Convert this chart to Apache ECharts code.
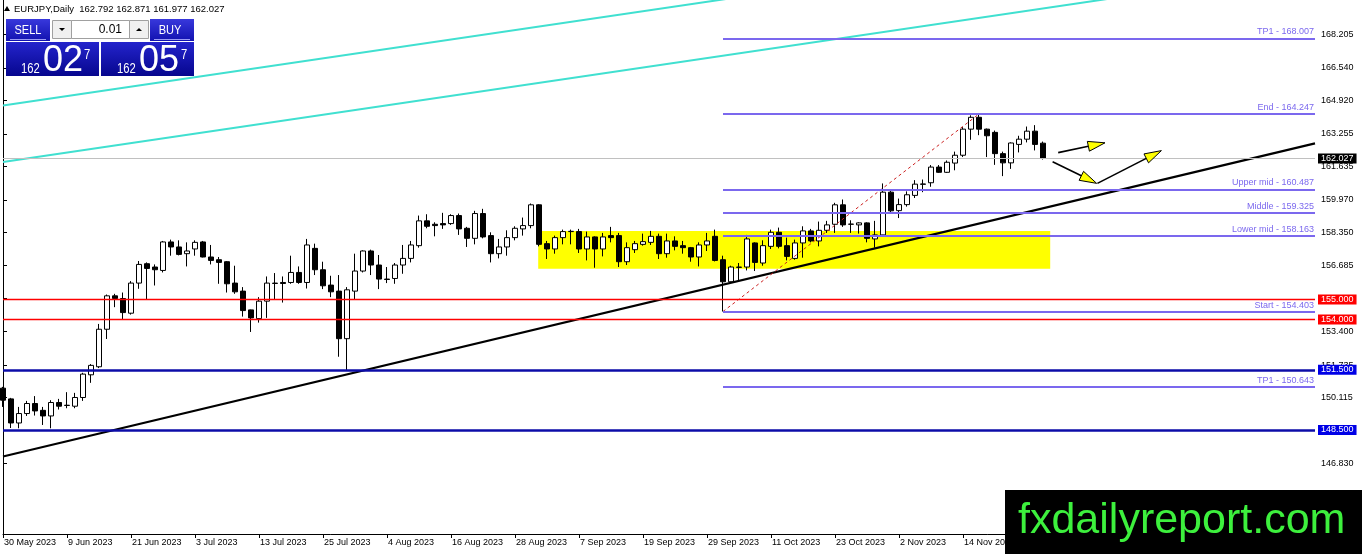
<!DOCTYPE html>
<html><head><meta charset="utf-8">
<style>html,body{margin:0;padding:0;background:#fff;overflow:hidden}#c{width:1362px;height:554px}</style>
<script src="https://cdn.jsdelivr.net/npm/echarts@6.0.0/dist/echarts.min.js"></script>
</head><body><div id="c"></div>
<script>
// ---- data ----
// daily candles, one row per bar: [open, high, low, close]
const candles = [
[150.585,150.65,149.65,149.985],[150.05,150.1,148.6,148.85],[148.85,149.65,148.585,149.32],[149.32,149.95,149.2,149.82],
[149.82,150.19,149.22,149.45],[149.48,149.65,148.75,149.2],[149.2,149.985,148.585,149.87],[149.87,150.05,149.52,149.685],
[149.72,150.385,149.585,149.735],[149.685,150.35,149.585,150.12],[150.12,151.35,149.95,151.285],[151.25,151.785,150.85,151.72],
[151.65,153.785,151.585,153.52],[153.52,155.25,153.035,155.185],[155.185,155.285,154.62,155.05],[155.05,155.35,154.02,154.35],
[154.32,155.92,154.25,155.82],[155.82,156.92,155.535,156.75],[156.785,156.85,155.02,156.55],[156.62,156.75,155.7,156.485],
[156.45,157.92,156.35,157.87],[157.87,157.985,157.185,157.62],[157.62,157.95,157.2,157.25],[157.285,157.85,156.65,157.42],
[157.52,157.95,157.185,157.85],[157.87,157.92,157.1,157.12],[157.12,157.72,156.75,156.95],[156.985,157.12,155.785,156.85],
[156.885,156.92,155.35,155.785],[155.82,156.685,155.285,155.385],[155.42,155.62,154.15,154.45],[154.485,154.5,153.385,154.085],
[154.05,155.12,153.85,154.92],[154.92,156.15,154.085,155.82],[155.8,156.32,154.985,155.82],[155.85,156.15,154.85,155.8],
[155.85,157.185,155.785,156.35],[156.35,156.65,155.785,155.85],[155.85,158.02,155.55,157.72],[157.55,157.785,156.22,156.485],
[156.485,156.885,155.52,155.685],[155.72,156.185,155.12,155.385],[155.42,156.22,152.15,153.05],[153.05,155.62,151.45,155.485],
[155.42,157.285,154.985,156.42],[156.42,157.45,156.35,157.42],[157.42,157.485,156.22,156.72],[156.72,157.22,155.52,156.02],
[156.02,156.62,155.82,156.0],[156.05,156.82,155.785,156.72],[156.72,157.72,156.285,157.05],[157.05,157.92,156.85,157.72],
[157.685,159.185,157.585,158.92],[158.92,159.25,158.55,158.65],[158.75,158.85,158.15,158.685],[158.785,159.32,158.52,158.72],
[158.785,159.25,158.72,159.185],[159.185,159.285,158.22,158.52],[158.55,158.62,157.62,158.05],[158.05,159.42,157.75,159.285],
[159.285,159.52,158.05,158.12],[158.185,158.35,156.85,157.285],[157.285,158.02,157.05,157.62],[157.62,158.45,157.185,158.085],
[158.085,158.65,157.95,158.55],[158.52,159.085,158.185,158.685],[158.685,159.785,158.55,159.72],[159.72,159.75,157.65,157.75],
[157.785,157.92,157.02,157.52],[157.52,158.185,157.285,158.085],[158.085,158.485,157.75,158.385],[158.385,158.485,157.75,158.4],
[158.385,158.52,157.32,157.52],[157.52,158.385,156.95,158.12],[158.12,158.15,156.585,157.52],[157.52,158.32,157.15,158.12],
[158.185,158.62,157.85,158.085],[158.185,158.32,156.62,156.885],[156.885,157.85,156.72,157.585],[157.485,157.92,157.32,157.785],
[157.75,158.285,157.685,157.885],[157.85,158.42,157.72,158.15],[158.15,158.285,157.02,157.285],[157.285,158.285,157.085,157.92],
[157.92,158.15,157.45,157.65],[157.685,157.92,157.285,157.585],[157.585,157.62,156.885,157.12],[157.12,157.85,156.65,157.72],
[157.72,158.32,157.42,157.92],[158.15,158.485,156.9,156.95],[156.985,157.185,154.403,155.885],[155.885,156.685,155.82,156.62],
[156.6,156.82,155.95,156.62],[156.62,158.22,156.45,158.02],[157.82,157.85,156.42,156.85],[156.82,157.95,156.685,157.685],
[157.65,158.485,157.52,158.35],[158.35,158.585,157.55,157.65],[157.685,158.085,156.95,157.15],[157.05,157.985,156.985,157.82],
[157.82,158.65,157.085,158.42],[158.42,158.52,157.85,157.92],[157.92,158.885,157.65,158.45],[158.45,158.92,158.32,158.72],
[158.75,159.82,158.32,159.72],[159.72,159.985,158.62,158.72],[158.75,158.95,158.32,158.76],[158.72,158.85,158.285,158.82],
[158.82,158.85,157.85,158.05],[158.02,158.92,157.585,158.22],[158.22,160.785,158.15,160.35],[160.35,160.45,159.3,159.42],
[159.43,160.03,159.06,159.73],[159.73,160.39,159.63,160.22],[160.19,160.95,160.06,160.75],[160.74,160.98,160.35,160.76],
[160.82,161.7,160.62,161.6],[161.6,161.7,161.31,161.34],[161.34,161.93,161.31,161.84],[161.8,162.37,161.44,162.19],
[162.19,163.59,162.1,163.49],[163.49,164.18,162.96,164.08],[164.08,164.247,163.19,163.49],[163.49,163.52,162.1,163.16],
[163.33,163.42,161.71,162.27],[162.27,162.37,161.15,161.81],[161.81,162.83,161.51,162.8],[162.73,163.16,162.33,162.99],
[162.99,163.62,162.83,163.39],[163.39,163.69,162.43,162.73],[162.792,162.871,161.977,162.027]
];
// date labels, one every 8 bars
const tickLabels = ['30 May 2023','9 Jun 2023','21 Jun 2023','3 Jul 2023','13 Jul 2023','25 Jul 2023','4 Aug 2023','16 Aug 2023',
  '28 Aug 2023','7 Sep 2023','19 Sep 2023','29 Sep 2023','11 Oct 2023','23 Oct 2023','2 Nov 2023','14 Nov 2023','24 Nov 2023'];
const priceTicks = [146.830,148.495,150.115,151.735,153.400,155.040,156.685,158.350,159.970,161.635,163.255,164.920,166.540,168.205];
const fibNames  = ['TP1','End','Upper mid','Middle','Lower mid','Start','TP1'];
const fibValues = [168.007,164.247,160.487,159.325,158.163,154.403,150.643];
const fibStartBar = 90;
const redLevels = [155.000, 154.000];
const blueLevels = [151.500, 148.500];
const bidPrice = 162.027;
const channelUpper = [[0,164.67],[100,170.54]];
const channelLower = [[0,161.85],[150,170.68]];
const trendLine = [[0,147.18],[164,162.78]];
const fibDiagonal = [[90,154.403],[122,164.247]];
const zoneFrom = [66.9, 158.42];
const zoneTo = [130.9, 156.54];
const arrows = [[131.9,162.32,137.75,162.81],[131.2,161.87,136.7,160.79],[136.8,160.79,144.8,162.42]];
const titleText = 'EURJPY,Daily  162.792 162.871 161.977 162.027';
const slotCount = 165;
const yMin = 143.318, yMax = 169.925;

// ---- chart ----
const FONT = '"Liberation Sans", Arial, sans-serif';
const chart = echarts.init(document.getElementById('c'), null, {renderer:'canvas'});
const cats = Array.from({length: slotCount}, (_, i) => String(i));
const lastSlot = slotCount - 1;
const showTick = (i) => i % 8 === 0 && (i / 8) < tickLabels.length;
const grad = (a, b) => new echarts.graphic.LinearGradient(0,0,0,1,[{offset:0,color:a},{offset:1,color:b}]);

const lineSeries = (data, color, width, type, z) => ({
  type:'line', xAxisIndex:1, yAxisIndex:0, data, showSymbol:false, symbol:'none', silent:true, clip:true, z,
  color, lineStyle:{color, width, type, opacity:1}, animation:false
});

// horizontal levels: lines drawn by markLine with a price box on the axis
const levelItem = (v, lineColor, width, boxColor) => ({
  yAxis:v,
  lineStyle:{color:lineColor, width:width, type:'solid'},
  label:{show:true, position:'end', distance:3, formatter:v.toFixed(3),
    color:'#fff', backgroundColor:boxColor, padding:[1,3,0,3], fontSize:9, fontFamily:FONT}
});
const levelItems = [
  levelItem(bidPrice, '#c0c0c0', 1, '#000000'),
  ...redLevels.map(v => levelItem(v, '#ff0000', 1.4, '#ff0000')),
  ...blueLevels.map(v => levelItem(v, '#0c0ca8', 2.5, '#0000e6'))
];

const fibLines = fibValues.map((v, k) => [
  {name: fibNames[k] + ' - ' + v.toFixed(3), coord:[fibStartBar, v]},
  {coord:[lastSlot, v]}
]);

const option = {
  animation:false,
  backgroundColor:'#ffffff',
  grid:{left:3, right:47, top:0, bottom:20, containLabel:false},
  xAxis:[
    {type:'category', data:cats, boundaryGap:false, gridIndex:0,
     axisLine:{show:true, lineStyle:{color:'#000', width:1}},
     axisTick:{show:true, interval:(i)=>showTick(i), length:4, lineStyle:{color:'#000'}},
     axisLabel:{show:true, interval:(i)=>showTick(i), formatter:(v,i)=>tickLabels[i/8] || '',
       align:'left', margin:4, fontSize:9, color:'#000', fontFamily:FONT, padding:[0,0,0,1]},
     splitLine:{show:false}},
    {type:'value', min:0, max:lastSlot, gridIndex:0, show:false}
  ],
  yAxis:[
    {type:'value', position:'right', min:yMin, max:yMax, gridIndex:0,
     axisLine:{show:true, lineStyle:{color:'#000', width:1}},
     axisTick:{show:true, customValues:priceTicks, length:4, lineStyle:{color:'#000'}},
     axisLabel:{show:true, customValues:priceTicks, formatter:(v)=>Number(v).toFixed(3), margin:6, fontSize:9, color:'#000', fontFamily:FONT},
     splitLine:{show:false}},
    {type:'value', position:'left', min:yMin, max:yMax, gridIndex:0,
     axisLine:{show:true, onZero:false, lineStyle:{color:'#000', width:1}},
     axisTick:{show:false}, axisLabel:{show:false}, splitLine:{show:false}}
  ],
  series:[
    {type:'line', xAxisIndex:1, yAxisIndex:0, data:[zoneFrom], showSymbol:false, symbol:'none', z:1, silent:true,
     lineStyle:{width:0, opacity:0},
     markArea:{silent:true, itemStyle:{color:'#ffff00'}, data:[[{coord:zoneFrom},{coord:zoneTo}]]}},
    {type:'candlestick', xAxisIndex:0, yAxisIndex:0, z:2, barWidth:5, silent:true, clip:true,
     data: candles.map(r => [r[0], r[3], r[2], r[1]]),
     itemStyle:{color:'#ffffff', color0:'#000000', borderColor:'#000000', borderColor0:'#000000', borderWidth:1}},
    {type:'line', xAxisIndex:1, yAxisIndex:0, data:[], z:3, silent:true,
     markLine:{silent:true, symbol:['none','none'], animation:false, data:levelItems}},
    {type:'line', xAxisIndex:1, yAxisIndex:0, data:[], z:3, silent:true, color:'#7b68ee',
     markLine:{silent:true, symbol:['none','none'], animation:false,
       lineStyle:{color:'#7b68ee', width:2, type:'solid'},
       label:{show:true, position:'insideEndTop', formatter:'{b}', color:'#7b68ee', fontSize:9, fontFamily:FONT, distance:[1,2]},
       data:fibLines}},
    lineSeries(channelUpper, '#40e0d0', 2, 'solid', 4),
    lineSeries(channelLower, '#40e0d0', 2, 'solid', 4),
    lineSeries(trendLine, '#000000', 2.2, 'solid', 4),
    lineSeries(fibDiagonal, '#cc2222', 1, [3,3], 4),
    {type:'custom', xAxisIndex:1, yAxisIndex:0, z:5, silent:true, data:arrows,
     encode:{x:[0,2], y:[1,3]},
     renderItem:(params, api) => {
       const p1 = api.coord([api.value(0), api.value(1)]);
       const p2 = api.coord([api.value(2), api.value(3)]);
       const dx = p2[0]-p1[0], dy = p2[1]-p1[1], len = Math.hypot(dx, dy);
       const ux = dx/len, uy = dy/len, L = 17, W = 10;
       const bx = p2[0]-ux*L, by = p2[1]-uy*L;
       return {type:'group', children:[
         {type:'line', shape:{x1:p1[0], y1:p1[1], x2:bx, y2:by}, style:{stroke:'#000', lineWidth:1.6}},
         {type:'polygon', shape:{points:[[p2[0],p2[1]],[bx-uy*W/2, by+ux*W/2],[bx+uy*W/2, by-ux*W/2]]},
          style:{fill:'#ffff00', stroke:'#000', lineWidth:1}}
       ]};
     }}
  ],
  graphic:[
    // title
    {type:'polygon', z:100, shape:{points:[[4,11],[10,11],[7,6]]}, style:{fill:'#000'}},
    {type:'text', z:100, x:14, y:9, style:{text:titleText, font:'9.5px ' + FONT, fill:'#000', verticalAlign:'middle'}},
    // one-click trading panel
    {type:'rect', z:100, shape:{x:6, y:19, width:44, height:22}, style:{fill:grad('#3838dc','#1212b0')}},
    {type:'line', z:101, shape:{x1:10, y1:39.5, x2:46, y2:39.5}, style:{stroke:'#9a9af5', lineWidth:1}},
    {type:'text', z:101, x:28, y:30, scaleX:0.85, style:{text:'SELL', font:'13px ' + FONT, fill:'#fff', align:'center', verticalAlign:'middle'}},
    {type:'rect', z:100, shape:{x:52.5, y:20.5, width:19, height:18}, style:{fill:'#f0f0f0', stroke:'#a0a0a0', lineWidth:1}},
    {type:'polygon', z:101, shape:{points:[[59,28],[65,28],[62,31]]}, style:{fill:'#000'}},
    {type:'rect', z:100, shape:{x:71.5, y:20.5, width:58, height:18}, style:{fill:'#fff', stroke:'#a0a0a0', lineWidth:1}},
    {type:'text', z:101, x:122, y:30, style:{text:'0.01', font:'12px ' + FONT, fill:'#000', align:'right', verticalAlign:'middle'}},
    {type:'rect', z:100, shape:{x:129.5, y:20.5, width:19, height:18}, style:{fill:'#f0f0f0', stroke:'#a0a0a0', lineWidth:1}},
    {type:'polygon', z:101, shape:{points:[[136,31],[142,31],[139,28]]}, style:{fill:'#000'}},
    {type:'rect', z:100, shape:{x:150, y:19, width:44, height:22}, style:{fill:grad('#3838dc','#1212b0')}},
    {type:'line', z:101, shape:{x1:154, y1:39.5, x2:190, y2:39.5}, style:{stroke:'#9a9af5', lineWidth:1}},
    {type:'text', z:101, x:170, y:30, scaleX:0.85, style:{text:'BUY', font:'13px ' + FONT, fill:'#fff', align:'center', verticalAlign:'middle'}},
    {type:'rect', z:100, shape:{x:6, y:42, width:93, height:34}, style:{fill:grad('#2424cc','#06068e')}},
    {type:'rect', z:100, shape:{x:101, y:42, width:93, height:34}, style:{fill:grad('#2424cc','#06068e')}},
    {type:'text', z:101, x:21, y:68.5, scaleX:0.75, style:{text:'162', font:'15px ' + FONT, fill:'#fff', verticalAlign:'middle'}},
    {type:'text', z:101, x:43, y:61, style:{text:'02', font:'36px ' + FONT, fill:'#fff', verticalAlign:'middle'}},
    {type:'text', z:101, x:84, y:55, scaleX:0.75, style:{text:'7', font:'15px ' + FONT, fill:'#fff', verticalAlign:'middle'}},
    {type:'text', z:101, x:117, y:68.5, scaleX:0.75, style:{text:'162', font:'15px ' + FONT, fill:'#fff', verticalAlign:'middle'}},
    {type:'text', z:101, x:139, y:61, style:{text:'05', font:'36px ' + FONT, fill:'#fff', verticalAlign:'middle'}},
    {type:'text', z:101, x:181, y:55, scaleX:0.75, style:{text:'7', font:'15px ' + FONT, fill:'#fff', verticalAlign:'middle'}},
    // watermark
    {type:'rect', z:100, shape:{x:1005, y:490, width:357, height:64}, style:{fill:'#000'}},
    {type:'text', z:101, x:1018, y:521, style:{text:'fxdailyreport.com', font:'43px ' + FONT, fill:'#3df03d', verticalAlign:'middle'}}
  ]
};
chart.setOption(option);
</script>
</body></html>
